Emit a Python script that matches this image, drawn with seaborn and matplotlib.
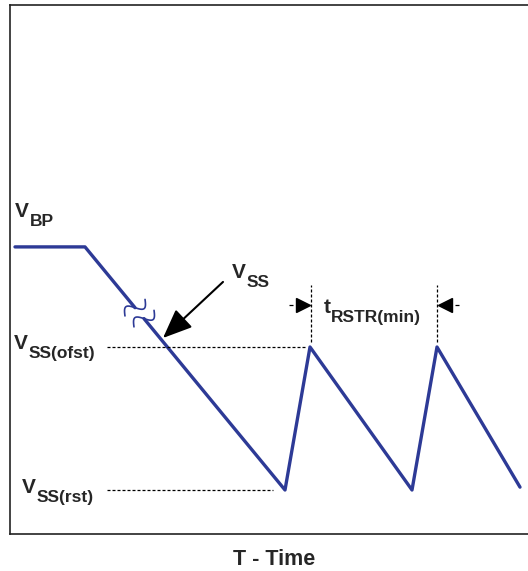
import numpy as np
import pandas as pd
import matplotlib
matplotlib.use('Agg')
import matplotlib.pyplot as plt
import seaborn as sns
from matplotlib.patches import ArrowStyle

# waveform corner points (time in arbitrary units, voltage normalised so
# V_SS(rst) = 0 and V_SS(ofst) = 1)
time_pts = [5, 75, 275, 300, 402, 427, 510]
volt_pts = [1.70, 1.70, 0.0, 1.0, 0.0, 1.0, 0.02]

# break drawn in the first ramp
gap_times = [125, 134]

# reference levels
v_bp = 1.70
v_ofst = 1.0
v_rst = 0.0

# restart interval markers
t_restart = [301, 426.5]

BLUE = '#2d3a96'


def ramp_v(t):
    return np.interp(t, time_pts[1:3], volt_pts[1:3])


def build_waveform():
    """Split the waveform at the break into two segments."""
    t_a = [time_pts[0], time_pts[1], gap_times[0]]
    v_a = [volt_pts[0], volt_pts[1], ramp_v(gap_times[0])]
    t_b = [gap_times[1]] + time_pts[2:]
    v_b = [ramp_v(gap_times[1])] + volt_pts[2:]
    df = pd.DataFrame({
        'time': t_a + t_b,
        'volt': v_a + v_b,
        'seg': ['a'] * len(t_a) + ['b'] * len(t_b),
    })
    return df


def squiggle(ax, t0):
    """Small S-shaped break mark across the ramp, built in display space."""
    p1 = ax.transData.transform((time_pts[1], volt_pts[1]))
    p2 = ax.transData.transform((time_pts[2], volt_pts[2]))
    d = (p2 - p1) / np.hypot(*(p2 - p1))
    n = np.array([-d[1], d[0]])
    c = ax.transData.transform((t0, ramp_v(t0)))
    s = np.linspace(-1, 1, 100)
    pts = c + np.outer(s * 13, n) + np.outer(np.sin(np.pi * s) * 6.5, d)
    data = ax.transData.inverted().transform(pts)
    ax.plot(data[:, 0], data[:, 1], color=BLUE, lw=1.2, solid_capstyle='round')


def vlabel(ax, x, y, main, sub, dx=10.8, size=15, subsize=12.5):
    ax.text(x, y, main, fontsize=size, fontweight='bold', va='baseline', ha='left')
    ax.annotate(sub, xy=(x, y), xytext=(dx, -6.8), textcoords='offset points',
                fontsize=subsize, fontweight='bold', va='baseline', ha='left')


def main():
    sns.set_style('white')
    plt.rcParams['font.family'] = ['Liberation Sans', 'DejaVu Sans']

    fig = plt.figure(figsize=(5.28, 5.71), dpi=100)
    ax = fig.add_axes([10 / 528, 37 / 571, 518 / 528, 529 / 571])
    ax.set_xlim(0, 518)
    ax.set_ylim(-0.3077, 3.3916)

    df = build_waveform()
    sns.lineplot(data=df, x='time', y='volt', units='seg', estimator=None,
                 sort=False, color=BLUE, lw=2.4, ax=ax)

    for t0 in gap_times:
        squiggle(ax, t0)

    dot = dict(color='black', lw=0.9, linestyle=(0, (2.4, 1.6)))
    ax.hlines(v_ofst, 97, time_pts[3] - 5, **dot)
    ax.hlines(v_rst, 97, time_pts[2] - 12, **dot)
    ax.vlines(t_restart, 1.035, 1.434, **dot)

    # restart interval arrow heads
    y_arr = 1.294
    ax.plot(t_restart[0] - 8.5, y_arr, marker='>', ms=10.5, color='black')
    ax.plot(t_restart[1] + 8.5, y_arr, marker='<', ms=10.5, color='black')
    ax.hlines(y_arr, t_restart[0] - 22, t_restart[0] - 18, color='black', lw=0.9)
    ax.hlines(y_arr, t_restart[1] + 18, t_restart[1] + 22, color='black', lw=0.9)

    # V_SS pointer
    ax.annotate('', xy=(153, 1.063), xytext=(213, 1.455),
                arrowprops=dict(arrowstyle=ArrowStyle('-|>', head_length=1.8, head_width=0.75),
                                mutation_scale=10, color='black', lw=1.5,
                                shrinkA=0, shrinkB=0))

    vlabel(ax, 5, 1.909, 'V', 'BP')
    vlabel(ax, 4, 0.986, 'V', 'SS(ofst)')
    vlabel(ax, 12, -0.021, 'V', 'SS(rst)')
    vlabel(ax, 222, 1.483, 'V', 'SS')
    vlabel(ax, 314, 1.238, 't', 'RSTR(min)', dx=5.2)

    ax.set_xticks([])
    ax.set_yticks([])
    ax.set_xlabel('T - Time', fontsize=15.5, fontweight='bold', va='baseline')
    ax.xaxis.set_label_coords(264 / 518, -31 / 529)
    ax.set_ylabel('')

    for side in ['left', 'top', 'bottom']:
        ax.spines[side].set_color('#222222')
        ax.spines[side].set_linewidth(1.2)
    ax.spines['right'].set_visible(False)

    fig.savefig('out.png', dpi=100)


if __name__ == "__main__":
    main()
